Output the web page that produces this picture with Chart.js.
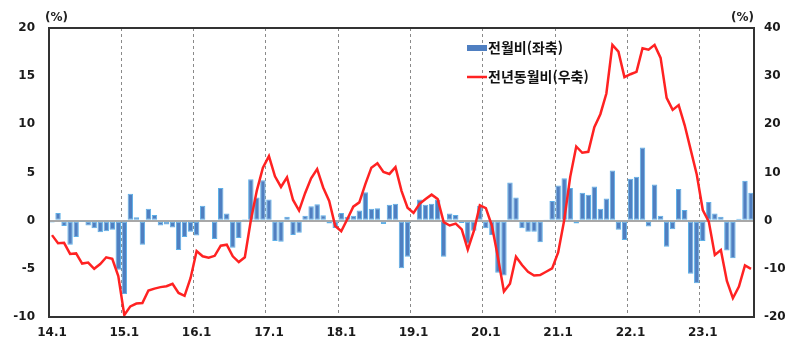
<!DOCTYPE html>
<html lang="ko">
<head>
<meta charset="utf-8">
<script src="https://cdn.jsdelivr.net/npm/chart.js@4/dist/chart.umd.min.js"></script>
<style>
  html, body { margin: 0; padding: 0; background: #fff; }
  #wrap { width: 800px; height: 347px; }
</style>
</head>
<body>
<div id="wrap"><canvas id="priceChart" width="800" height="347"></canvas></div>
<script>
// monthly labels, 14.1 ~ 23.9
const years = [14, 15, 16, 17, 18, 19, 20, 21, 22, 23];
const lastMonthOf23 = 9;
const months = [];
years.forEach(y => {
    const upto = y === 23 ? lastMonthOf23 : 12;
    for (let m = 1; m <= upto; m++) months.push(y + '.' + m);
});

// 전월비 (%, left axis)
const momChange = [
    -0.2, 0.8, -0.55, -2.5, -1.7, -0.05, -0.5, -0.8, -1.2, -1.1, -0.95, -5.1,
    -7.6, 2.8, 0.35, -2.5, 1.25, 0.6, -0.5, -0.4, -0.7, -3.05, -1.7, -1.15,
    -1.55, 1.55, 0.1, -1.9, 3.4, 0.75, -2.8, -1.8, 0.15, 4.3, 2.4, 4.2,
    2.2, -2.1, -2.2, 0.4, -1.5, -1.25, 0.5, 1.5, 1.7, 0.55, -0.3, -0.75,
    0.8, 0.4, 0.5, 1.05, 2.95, 1.25, 1.3, -0.35, 1.65, 1.75, -4.95, -3.75,
    -0.15, 2.2, 1.65, 1.75, 2.2, -3.75, 0.75, 0.6, -0.25, -2.4, -1.05, 1.55,
    -0.8, -1.5, -5.4, -5.7, 3.95, 2.4, -0.8, -1.15, -1.15, -2.25, 0.05, 2.05,
    3.65, 4.4, 3.4, -0.3, 2.9, 2.7, 3.55, 1.25, 2.3, 5.2, -0.95, -2.0,
    4.35, 4.55, 7.6, -0.6, 3.75, 0.5, -2.7, -0.9, 3.3, 1.1, -5.5, -6.5,
    -2.1, 1.95, 0.75, 0.4, -3.1, -3.9, 0.2, 4.15, 2.9
];

// 전년동월비 (%, right axis)
const yoyChange = [
    -3.0, -4.7, -4.6, -6.9, -6.8, -8.9, -8.7, -10.0, -9.0, -7.6, -7.9, -11.5,
    -19.6, -17.8, -17.2, -17.1, -14.5, -14.1, -13.8, -13.6, -13.1, -15.0, -15.6, -11.9,
    -6.3, -7.4, -7.7, -7.3, -5.2, -5.0, -7.4, -8.6, -7.6, 0.1, 6.3, 11.0,
    13.4, 9.2, 7.0, 9.0, 4.3, 2.1, 5.7, 8.8, 10.7, 6.9, 4.1, -1.1,
    -2.2, 0.3, 2.9, 3.8, 7.6, 11.0, 11.9, 10.1, 9.7, 11.1, 6.2, 2.7,
    1.6, 3.5, 4.5, 5.4, 4.5, -0.3, -1.0, -0.6, -1.8, -6.0, -2.2, 3.2,
    2.6, -1.0, -7.6, -14.7, -13.1, -7.5, -9.2, -10.6, -11.4, -11.3, -10.6, -9.9,
    -6.6, 0.1, 9.1, 15.4, 14.1, 14.3, 19.4, 22.1, 26.4, 36.5, 35.1, 29.8,
    30.4, 30.9, 35.8, 35.5, 36.5, 33.8, 25.5, 23.0, 24.0, 19.8, 14.7, 9.6,
    2.2, -0.2, -7.1, -6.1, -12.5, -16.1, -13.7, -9.3, -10.0
];

const seriesNames = ['전월비(좌축)', '전년동월비(우축)'];
const barColor = '#4f7fc1';
const barEdge = '#5cb0e8';
const lineColor = '#ff2222';
const tickFont = { family: '"DejaVu Sans", sans-serif', size: 12, weight: 'bold' };

// frame, unit labels and the legend box inside the plot
const decorations = {
    id: 'decorations',
    afterDraw(chart) {
        const { ctx, chartArea: a } = chart;
        ctx.save();
        ctx.strokeStyle = '#333';
        ctx.lineWidth = 2;
        ctx.strokeRect(a.left, a.top, a.right - a.left, a.bottom - a.top);

        ctx.fillStyle = '#222';
        ctx.font = 'bold 12px "DejaVu Sans"';
        ctx.textBaseline = 'middle';
        ctx.textAlign = 'left';
        ctx.fillText('(%)', a.left - 4, 18);
        ctx.textAlign = 'right';
        ctx.fillText('(%)', a.right, 18);

        const lx = 467, ly1 = 48, ly2 = 77;
        ctx.fillStyle = barColor;
        ctx.fillRect(lx, ly1 - 3, 20, 6);
        ctx.strokeStyle = lineColor;
        ctx.lineWidth = 2.5;
        ctx.beginPath();
        ctx.moveTo(lx, ly2);
        ctx.lineTo(lx + 20, ly2);
        ctx.stroke();

        ctx.fillStyle = '#111';
        ctx.font = 'bold 14px "Noto Sans CJK KR"';
        ctx.textAlign = 'left';
        ctx.fillText(seriesNames[0], lx + 21, ly1);
        ctx.fillText(seriesNames[1], lx + 21, ly2);
        ctx.restore();
    }
};

new Chart(document.getElementById('priceChart'), {
    data: {
        labels: months,
        datasets: [
            {
                type: 'line',
                label: seriesNames[1],
                data: yoyChange,
                yAxisID: 'yRight',
                borderColor: lineColor,
                borderWidth: 2.5,
                pointRadius: 0,
                tension: 0,
                order: 0
            },
            {
                type: 'bar',
                label: seriesNames[0],
                data: momChange,
                yAxisID: 'yLeft',
                backgroundColor: barColor,
                borderColor: barEdge,
                borderWidth: 1,
                borderSkipped: false,
                categoryPercentage: 1,
                barPercentage: 0.9,
                order: 1
            }
        ]
    },
    options: {
        responsive: false,
        animation: false,
        layout: { padding: { top: 28, left: 0, right: 0, bottom: 0 } },
        plugins: {
            legend: { display: false },
            tooltip: { enabled: false }
        },
        scales: {
            x: {
                type: 'category',
                offset: true,
                grid: {
                    offset: true,
                    drawTicks: false,
                    lineWidth: 1,
                    color: c => (c.index > 0 && c.index % 12 === 0) ? '#8a8a8a' : 'transparent'
                },
                border: { display: false, dash: [3, 3] },
                ticks: {
                    autoSkip: false,
                    maxRotation: 0,
                    padding: 9,
                    color: '#1a1a1a',
                    font: tickFont,
                    callback: (v, i) => i % 12 === 0 ? months[i] : ''
                },
                afterFit: s => { s.height = 30; }
            },
            yLeft: {
                position: 'left',
                min: -10,
                max: 20,
                ticks: { stepSize: 5, padding: 14, color: '#1a1a1a', font: tickFont },
                grid: {
                    drawTicks: false,
                    lineWidth: 2,
                    color: c => c.tick && c.tick.value === 0 ? '#a8a8a8' : 'transparent'
                },
                border: { display: false },
                afterFit: s => { s.width = 49; }
            },
            yRight: {
                position: 'right',
                min: -20,
                max: 40,
                ticks: { stepSize: 10, padding: 10, color: '#1a1a1a', font: tickFont },
                grid: { drawOnChartArea: false, drawTicks: false },
                border: { display: false },
                afterFit: s => { s.width = 46; }
            }
        }
    },
    plugins: [decorations]
});
</script>
</body>
</html>
